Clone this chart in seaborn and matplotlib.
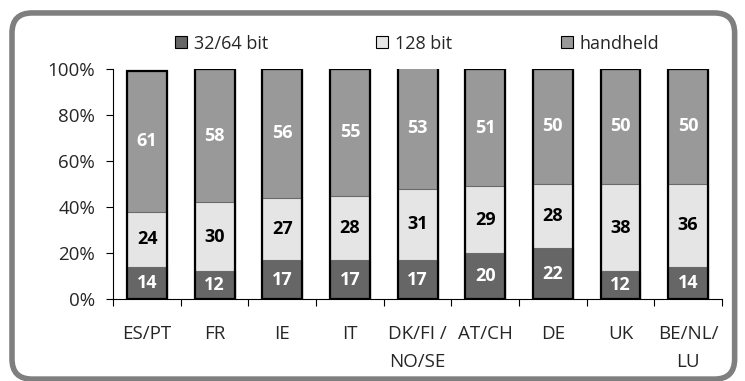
import matplotlib
matplotlib.use("Agg")
import matplotlib.pyplot as plt
import seaborn as sns
import numpy as np
import pandas as pd
from matplotlib.patches import Patch, FancyBboxPatch

regions = ["ES/PT", "FR", "IE", "IT", "DK/FI /\nNO/SE", "AT/CH", "DE", "UK", "BE/NL/\nLU"]
bit_32_64 = [14, 12, 17, 17, 17, 20, 22, 12, 14]
bit_128 = [24, 30, 27, 28, 31, 29, 28, 38, 36]
handheld = [61, 58, 56, 55, 53, 51, 50, 50, 50]
series_names = ["32/64 bit", "128 bit", "handheld"]

c_dark, c_light, c_mid = "#666666", "#e5e5e5", "#999999"

sns.set_style("white")
plt.rcParams["font.family"] = ["Open Sans", "DejaVu Sans"]

df = pd.DataFrame({"region": regions, "a": bit_32_64, "b": bit_128, "c": handheld})
df["ab"] = df["a"] + df["b"]
df["abc"] = df["ab"] + df["c"]

fig = plt.figure(figsize=(7.45, 3.81), dpi=100)
ax = fig.add_axes([0.152, 0.215, 0.817, 0.604])

w = 0.59
for col, color in [("abc", c_mid), ("ab", c_light), ("a", c_dark)]:
    sns.barplot(data=df, x="region", y=col, color=color, width=w, ax=ax,
                edgecolor="#6a6a6a", linewidth=0.8, saturation=1, errorbar=None)
# black outline around each full stack
sns.barplot(data=df, x="region", y="abc", fill=False, width=w, ax=ax,
            edgecolor="black", linewidth=1.6, errorbar=None)

vfs = 13
for i in range(len(regions)):
    a, b, c = bit_32_64[i], bit_128[i], handheld[i]
    ax.text(i, a / 2, str(a), ha="center", va="center", color="white", fontsize=vfs, fontweight="bold")
    ax.text(i, a + b / 2, str(b), ha="center", va="center", color="black", fontsize=vfs, fontweight="bold")
    ax.text(i, a + b + c / 2, str(c), ha="center", va="center", color="white", fontsize=vfs, fontweight="bold")

fs = 13.5
ax.set_ylim(0, 100)
ax.set_xlim(-0.5, len(regions) - 0.5)
ax.set_yticks([0, 20, 40, 60, 80, 100])
ax.set_yticklabels([f"{v}%" for v in [0, 20, 40, 60, 80, 100]], fontsize=fs)
ax.set_xticks(range(len(regions)))
ax.set_xticklabels(regions, fontsize=fs, linespacing=1.7)
ax.set_xticks(np.arange(-0.5, len(regions), 1.0), minor=True)
ax.tick_params(axis="x", which="major", length=0, pad=19)
ax.tick_params(axis="x", which="minor", length=5, width=0.8, color="black", direction="out", bottom=True)
ax.tick_params(axis="y", length=5, width=0.8, color="black", direction="out", left=True, pad=8)
ax.set_xlabel("")
ax.set_ylabel("")
for s in ["top", "right"]:
    ax.spines[s].set_visible(False)
for s in ["left", "bottom"]:
    ax.spines[s].set_color("black")
    ax.spines[s].set_linewidth(0.8)

handles = [Patch(facecolor=col, edgecolor="black", linewidth=0.8) for col in (c_dark, c_light, c_mid)]
fig.legend(handles, series_names, loc="center", bbox_to_anchor=(0.56, 0.885), ncol=3,
           frameon=False, fontsize=13, handlelength=0.65, handleheight=0.65,
           handletextpad=0.4, columnspacing=6.0)

border = FancyBboxPatch((0.0161, 0.005), 0.970, 0.961, transform=fig.transFigure,
                        boxstyle="round,pad=0,rounding_size=0.027", mutation_aspect=745 / 381,
                        facecolor="none", edgecolor="#7f7f7f", linewidth=4, clip_on=False)
fig.patches.append(border)

fig.savefig("out.png", dpi=100)
